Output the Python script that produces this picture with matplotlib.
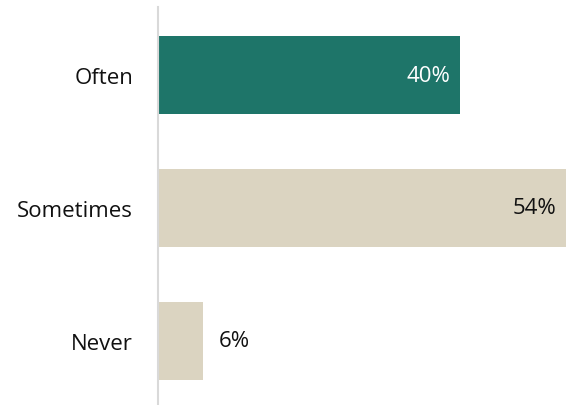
import matplotlib
matplotlib.use("Agg")
import matplotlib.pyplot as plt

# survey answers, top to bottom
categories = ["Often", "Sometimes", "Never"]
shares = [40, 54, 6]
bar_colors = ["#1e7569", "#dbd4c1", "#dbd4c1"]

plt.rcParams['font.family'] = ['Open Sans', 'DejaVu Sans']

fig = plt.figure(figsize=(5.67, 4.06), dpi=100)
ax = fig.add_axes([158 / 567, 0, 1 - 158 / 567, 1 - 8 / 406])

ypos = list(range(len(categories)))
ax.barh(ypos, shares, height=0.59, color=bar_colors, left=0)

ax.set_xlim(0, 54.1)
ax.set_ylim(2.485, -0.515)
ax.set_yticks(ypos)
ax.set_yticklabels(categories, fontsize=16, color="#111111")
ax.tick_params(axis="y", length=0, pad=18)
ax.set_xticks([])

for s in ["top", "right", "bottom"]:
    ax.spines[s].set_visible(False)
ax.spines["left"].set_color("#d9d9d9")
ax.spines["left"].set_linewidth(1.5)

# value labels: inside the long bars, outside the short one
for y, v in zip(ypos, shares):
    txt = f"{v}%"
    if v > 20:
        col = "white" if y == 0 else "#111111"
        ax.annotate(txt, (v, y), xytext=(-7, 0), textcoords="offset points",
                    ha="right", va="center", fontsize=16, color=col)
    else:
        ax.annotate(txt, (v, y), xytext=(11, 0), textcoords="offset points",
                    ha="left", va="center", fontsize=16, color="#111111")

fig.savefig("out.png", dpi=100)
